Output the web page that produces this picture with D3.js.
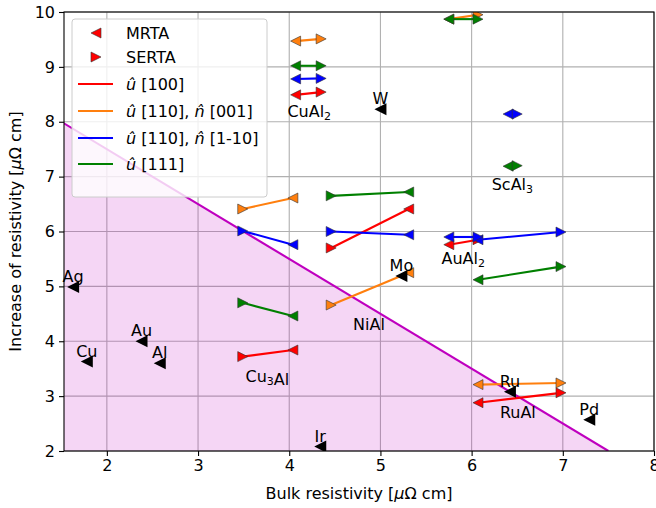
<!DOCTYPE html>
<html>
<head>
<meta charset="utf-8">
<script src="https://cdn.jsdelivr.net/npm/d3@7"></script>
<style>
  body { margin: 0; background: #fff; }
  svg { display: block; font-family: "DejaVu Sans", sans-serif; }
</style>
</head>
<body>
<div id="chart"></div>
<script>
// compounds: bulk resistivity (x) for the two solvers
const compounds = ['CuAl2', 'Cu3Al', 'NiAl', 'AuAl2', 'RuAl', 'ScAl3']
const bulkMRTA = [4.07, 4.04, 5.31, 5.75, 6.07, 6.40]
const bulkSERTA = [4.35, 3.49, 4.46, 6.07, 6.98, 6.50]

// increase of resistivity per orientation (null = not shown)
const u100MRTA = [8.49, 3.84, 6.41, 5.76, 2.88, null]
const u100SERTA = [8.54, 3.72, 5.70, 5.85, 3.06, null]
const u110n001MRTA = [9.47, 6.61, 5.25, 9.87, 3.21, null]
const u110n001SERTA = [9.51, 6.41, 4.66, 9.95, 3.24, null]
const u110n110MRTA = [8.78, 5.76, 5.94, 5.90, 5.85, 8.14]
const u110n110SERTA = [8.79, 6.01, 6.00, 5.90, 5.99, 8.14]
const u111MRTA = [9.02, 4.46, 6.72, 9.87, 5.12, 7.19]
const u111SERTA = [9.02, 4.70, 6.65, 9.87, 5.36, 7.20]

// compound label anchors (data coords, text start / baseline)
const compoundLabelX = [3.98, 3.52, 4.70, 5.67, 6.31, 6.22]
const compoundLabelY = [8.09, 3.26, 4.21, 5.41, 2.60, 6.76]

// elemental metals (MRTA only)
const elements = ['Ag', 'Cu', 'Au', 'Al', 'Ir', 'W', 'Mo', 'Ru', 'Pd']
const elementBulk = [1.63, 1.78, 2.38, 2.58, 4.34, 5.00, 5.23, 6.42, 7.29]
const elementIncrease = [4.99, 3.63, 4.00, 3.60, 2.08, 8.23, 5.19, 3.08, 2.57]

// threshold line: increase = 9.5 - bulk
const limitX = [1.5, 7.5]
const limitY = [8, 2]

const xTicks = [2, 3, 4, 5, 6, 7, 8]
const yTicks = [2, 3, 4, 5, 6, 7, 8, 9, 10]

const orientations = [
  { label: ['û', ' [100]'], color: '#ff0000', mrta: u100MRTA, serta: u100SERTA },
  { label: ['û', ' [110], ', 'n̂', ' [001]'], color: '#ff7f0e', mrta: u110n001MRTA, serta: u110n001SERTA },
  { label: ['û', ' [110], ', 'n̂', ' [1-10]'], color: '#0000ff', mrta: u110n110MRTA, serta: u110n110SERTA },
  { label: ['û', ' [111]'], color: '#008000', mrta: u111MRTA, serta: u111SERTA },
]

const FS = 16
const W = 656, H = 508
const m = { left: 64, right: 2, top: 12, bottom: 57 }
const iw = W - m.left - m.right
const ih = H - m.top - m.bottom

const x = d3.scaleLinear().domain([1.53, 8]).range([0, iw])
const y = d3.scaleLinear().domain([2, 10]).range([ih, 0])

const svg = d3.select('#chart').append('svg')
  .attr('width', W).attr('height', H)
  .attr('viewBox', `0 0 ${W} ${H}`)

svg.append('defs').append('clipPath').attr('id', 'plot-clip')
  .append('rect').attr('width', iw).attr('height', ih)

const g = svg.append('g').attr('transform', `translate(${m.left},${m.top})`)

// grid
g.append('g').selectAll('line').data(xTicks).join('line')
  .attr('x1', (d) => x(d)).attr('x2', (d) => x(d))
  .attr('y1', 0).attr('y2', ih)
  .attr('stroke', '#b0b0b0').attr('stroke-width', 1.1)
g.append('g').selectAll('line').data(yTicks).join('line')
  .attr('y1', (d) => y(d)).attr('y2', (d) => y(d))
  .attr('x1', 0).attr('x2', iw)
  .attr('stroke', '#b0b0b0').attr('stroke-width', 1.1)

const plot = g.append('g').attr('clip-path', 'url(#plot-clip)')

// shaded region under the threshold line
const x0 = x.domain()[0]
plot.append('path')
  .attr('d', d3.line()([
    [x(x0), y(limitY[0] - (x0 - limitX[0]))],
    [x(limitX[1]), y(limitY[1])],
    [x(x0), y(2)],
  ]) + 'Z')
  .attr('fill', '#bf00bf').attr('fill-opacity', 0.16)
plot.append('line')
  .attr('x1', x(limitX[0])).attr('y1', y(limitY[0]))
  .attr('x2', x(limitX[1])).attr('y2', y(limitY[1]))
  .attr('stroke', '#bf00bf').attr('stroke-width', 2.1)

function tri(dir, s) {
  const h = s / 2
  return dir < 0
    ? `M${-h},0L${h},${-h}L${h},${h}Z`
    : `M${h},0L${-h},${-h}L${-h},${h}Z`
}

orientations.forEach((o) => {
  const rows = compounds.map((c, i) => ({
    c, xm: bulkMRTA[i], ym: o.mrta[i], xs: bulkSERTA[i], ys: o.serta[i],
  })).filter((d) => d.ym != null)

  const layer = plot.append('g')
  layer.selectAll('line').data(rows).join('line')
    .attr('x1', (d) => x(d.xm)).attr('y1', (d) => y(d.ym))
    .attr('x2', (d) => x(d.xs)).attr('y2', (d) => y(d.ys))
    .attr('stroke', o.color).attr('stroke-width', 2.1)
  layer.selectAll('path.m').data(rows).join('path').attr('class', 'm')
    .attr('transform', (d) => `translate(${x(d.xm)},${y(d.ym)})`)
    .attr('d', tri(-1, 10))
    .attr('fill', o.color).attr('stroke', '#333').attr('stroke-width', 0.6)
  layer.selectAll('path.s').data(rows).join('path').attr('class', 's')
    .attr('transform', (d) => `translate(${x(d.xs)},${y(d.ys)})`)
    .attr('d', tri(1, 10))
    .attr('fill', o.color).attr('stroke', '#333').attr('stroke-width', 0.6)
})

// elemental metals
plot.append('g').selectAll('path').data(elements).join('path')
  .attr('transform', (d, i) => `translate(${x(elementBulk[i])},${y(elementIncrease[i])})`)
  .attr('d', tri(-1, 12))
  .attr('fill', '#000')

g.append('g').selectAll('text').data(elements).join('text')
  .attr('x', (d, i) => x(elementBulk[i]))
  .attr('y', (d, i) => y(elementIncrease[i]) - 5)
  .attr('text-anchor', 'middle')
  .attr('font-size', FS).attr('fill', '#000')
  .text((d) => d)

// compound labels with subscripts
compounds.forEach((c, i) => {
  const t = g.append('text')
    .attr('x', x(compoundLabelX[i])).attr('y', y(compoundLabelY[i]))
    .attr('font-size', FS).attr('fill', '#000')
  c.split(/(\d)/).filter(Boolean).forEach((part) => {
    if (/\d/.test(part)) {
      t.append('tspan').attr('font-size', 11).attr('dy', 3).text(part)
      t.append('tspan').attr('dy', -3).text('')
    } else {
      t.append('tspan').text(part)
    }
  })
})

// frame
g.append('rect').attr('width', iw).attr('height', ih)
  .attr('fill', 'none').attr('stroke', '#000').attr('stroke-width', 1.1)

// axes
const xAxis = g.append('g').attr('transform', `translate(0,${ih})`)
  .call(d3.axisBottom(x).tickValues(xTicks).tickSize(5).tickPadding(4).tickFormat(d3.format('d')))
xAxis.select('.domain').remove()
const yAxis = g.append('g')
  .call(d3.axisLeft(y).tickValues(yTicks).tickSize(5).tickPadding(4).tickFormat(d3.format('d')))
yAxis.select('.domain').remove()
svg.selectAll('.tick text').attr('font-size', FS).attr('font-family', '"DejaVu Sans", sans-serif').attr('fill', '#000')
svg.selectAll('.tick line').attr('stroke', '#000').attr('stroke-width', 1.1)

const xl = svg.append('text')
  .attr('x', m.left + iw / 2).attr('y', 499)
  .attr('text-anchor', 'middle').attr('font-size', FS).attr('fill', '#000')
xl.append('tspan').text('Bulk resistivity [')
xl.append('tspan').attr('font-style', 'italic').text('μ')
xl.append('tspan').text('Ω cm]')

const yl = svg.append('text')
  .attr('transform', `translate(21,${m.top + ih / 2}) rotate(-90)`)
  .attr('text-anchor', 'middle').attr('font-size', FS).attr('fill', '#000')
yl.append('tspan').text('Increase of resistivity [')
yl.append('tspan').attr('font-style', 'italic').text('μ')
yl.append('tspan').text('Ω cm]')

// legend
const lg = svg.append('g').attr('transform', 'translate(72,19)')
lg.append('rect').attr('width', 195).attr('height', 178).attr('rx', 3)
  .attr('fill', '#fff').attr('fill-opacity', 0.8)
  .attr('stroke', '#cccccc').attr('stroke-width', 1)

const markerRows = [{ text: 'MRTA', dir: -1 }, { text: 'SERTA', dir: 1 }]
const rowY = [14, 38, 65, 92, 119, 145]
markerRows.forEach((r, i) => {
  lg.append('path')
    .attr('transform', `translate(24,${rowY[i]})`)
    .attr('d', tri(r.dir, 10))
    .attr('fill', '#ff0000').attr('stroke', '#333').attr('stroke-width', 0.6)
  lg.append('text').attr('x', 54).attr('y', rowY[i]).attr('dy', '0.36em')
    .attr('font-size', FS).attr('fill', '#000').text(r.text)
})
orientations.forEach((o, i) => {
  const yy = rowY[i + 2]
  lg.append('line').attr('x1', 6).attr('x2', 41).attr('y1', yy).attr('y2', yy)
    .attr('stroke', o.color).attr('stroke-width', 2.1)
  const t = lg.append('text').attr('x', 54).attr('y', yy).attr('dy', '0.36em')
    .attr('font-size', FS).attr('fill', '#000')
  o.label.forEach((part) => {
    const italic = part === 'û' || part === 'n̂'
    t.append('tspan').attr('font-style', italic ? 'italic' : null).text(part)
  })
})
</script>
</body>
</html>
